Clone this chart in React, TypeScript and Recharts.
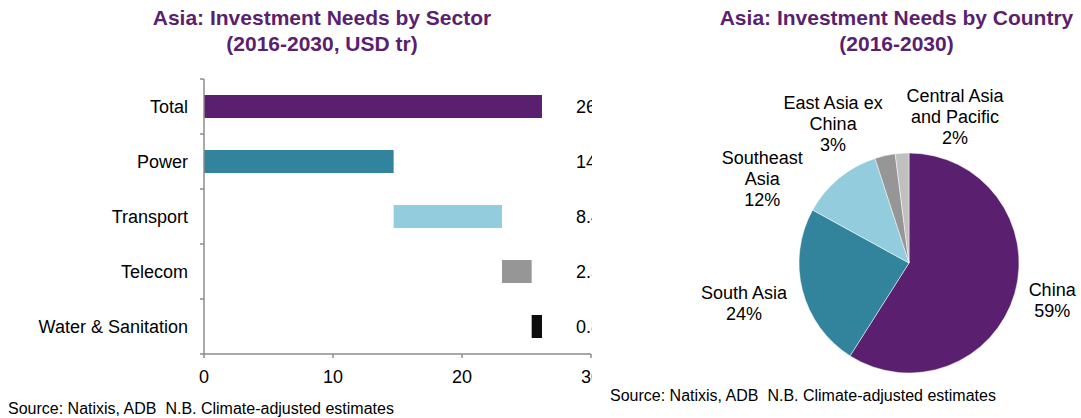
import { Bar, BarChart, Cell, LabelList, Pie, PieChart, XAxis, YAxis } from 'recharts';

const sectors = ['Total', 'Power', 'Transport', 'Telecom', 'Water & Sanitation'];
const sectorValues = [26.2, 14.7, 8.4, 2.3, 0.8];
const sectorColors = ['#5b1f70', '#31849b', '#93cddd', '#969696', '#0d0d0d'];
const xTicks = [0, 10, 20, 30];

const regions = ['China', 'South Asia', 'Southeast\nAsia', 'East Asia ex\nChina', 'Central Asia\nand Pacific'];
const regionShares = [59, 24, 12, 3, 2];
const regionColors = ['#5b1f70', '#31849b', '#93cddd', '#969696', '#c0c0c0'];

// waterfall: Total and Power start at 0, the rest stack on the running sum
const sectorData = sectors.map((name, i) => {
    let base = 0;
    for (let j = 1; j < i; j++) base += sectorValues[j];
    return { name, base: i <= 1 ? 0 : base, value: sectorValues[i] };
});

const regionData = regions.map((name, i) => ({ name, value: regionShares[i] }));

const PURPLE = '#5b1f70';
const AXIS = '#8c8c8c';
const FONT = '"Liberation Sans", Arial, sans-serif';
const PLOT_TOP = 79;
const PLOT_H = 275;
const BAND = PLOT_H / sectors.length;

// manual label placement like the excel original: [angle shift, radius]
const labelPlace = [
    [1.5, 148],
    [-0.6, 170],
    [20.6, 169],
    [15.9, 159],
    [-21.1, 153]
];

function SectorTick(props: any) {
    const { x, y, payload, index } = props;
    const axisX = x + 16;
    return (
        <g>
            <text x={x} y={y} dy="0.35em" textAnchor="end" fontSize={18} fill="#000" fontFamily={FONT}>
                {payload.value}
            </text>
            <line x1={axisX - 4} x2={axisX} y1={y - BAND / 2} y2={y - BAND / 2} stroke={AXIS} strokeWidth={1.5} />
            {index === sectors.length - 1 && (
                <line x1={axisX - 4} x2={axisX} y1={y + BAND / 2} y2={y + BAND / 2} stroke={AXIS} strokeWidth={1.5} />
            )}
        </g>
    );
}

function ValueLabel(props: any) {
    const vb = props.viewBox || {};
    const y = props.y ?? vb.y;
    const h = props.height ?? vb.height;
    return (
        <text x={576} y={y + h / 2} dy="0.35em" fontSize={18} fill="#000" fontFamily={FONT}>
            {Number(props.value).toFixed(1)}
        </text>
    );
}

const RADIAN = Math.PI / 180;
function RegionLabel(props: any) {
    const { cx, cy, midAngle, index } = props;
    const [shift, r] = labelPlace[index];
    const a = (midAngle + shift) * RADIAN;
    const lx = cx + r * Math.cos(a);
    const ly = cy - r * Math.sin(a);
    const lines = String(regions[index]).split('\n');
    lines.push(`${regionShares[index]}%`);
    const top = ly - ((lines.length - 1) * 21) / 2;
    return (
        <text x={lx} y={top} textAnchor="middle" fontSize={18} fill="#000" fontFamily={FONT}>
            {lines.map((t, i) => (
                <tspan key={i} x={lx} y={top + i * 21} dy="0.35em">
                    {t}
                </tspan>
            ))}
        </text>
    );
}

const titleStyle: React.CSSProperties = {
    position: 'absolute',
    top: 5,
    textAlign: 'center',
    fontSize: 21,
    fontWeight: 'bold',
    lineHeight: '26px',
    color: PURPLE,
    whiteSpace: 'nowrap'
};

const sourceStyle: React.CSSProperties = {
    position: 'absolute',
    fontSize: 16,
    color: '#000',
    whiteSpace: 'nowrap',
    lineHeight: '18px'
};

export default function App() {
    return (
        <div
            style={{
                position: 'absolute',
                left: 0,
                top: 0,
                width: 1081,
                height: 418,
                overflow: 'hidden',
                background: '#fff',
                fontFamily: FONT
            }}
        >
            <div style={{ ...titleStyle, left: 0, width: 644 }}>
                Asia: Investment Needs by Sector
                <br />
                (2016-2030, USD tr)
            </div>
            <div style={{ position: 'absolute', left: 0, top: 0, width: 592, height: 395, overflow: 'hidden' }}>
                <BarChart
                    width={592}
                    height={395}
                    data={sectorData}
                    layout="vertical"
                    barSize={23}
                    margin={{ top: PLOT_TOP, right: 1, bottom: 395 - PLOT_TOP - PLOT_H - 30, left: 0 }}
                >
                    <XAxis
                        type="number"
                        domain={[0, 30]}
                        ticks={xTicks}
                        interval={0}
                        height={30}
                        stroke={AXIS}
                        strokeWidth={1.5}
                        tickSize={4}
                        tickMargin={12}
                        tick={{ fill: '#000', fontSize: 18, fontFamily: FONT }}
                    />
                    <YAxis
                        type="category"
                        dataKey="name"
                        width={204}
                        stroke={AXIS}
                        strokeWidth={1.5}
                        tickLine={false}
                        tickSize={4}
                        tickMargin={12}
                        interval={0}
                        tick={<SectorTick />}
                    />
                    <Bar dataKey="base" stackId="w" fill="transparent" isAnimationActive={false} />
                    <Bar dataKey="value" stackId="w" isAnimationActive={false}>
                        {sectorData.map((_d, i) => (
                            <Cell key={`bar-${i}`} fill={sectorColors[i]} />
                        ))}
                        <LabelList dataKey="value" content={<ValueLabel />} />
                    </Bar>
                </BarChart>
            </div>
            <div style={{ ...sourceStyle, left: 8, top: 400 }}>Source: Natixis, ADB&nbsp; N.B. Climate-adjusted estimates</div>

            <div style={{ ...titleStyle, left: 600, width: 593 }}>
                Asia: Investment Needs by Country
                <br />
                (2016-2030)
            </div>
            <div style={{ position: 'absolute', left: 600, top: 0 }}>
                <PieChart width={481} height={418}>
                    <Pie
                        data={regionData}
                        dataKey="value"
                        nameKey="name"
                        cx={304}
                        cy={258}
                        outerRadius={110}
                        startAngle={90}
                        endAngle={-270}
                        stroke="#fff"
                        strokeWidth={0.5}
                        labelLine={false}
                        label={RegionLabel}
                        isAnimationActive={false}
                    >
                        {regionData.map((_d, i) => (
                            <Cell key={`slice-${i}`} fill={regionColors[i]} />
                        ))}
                    </Pie>
                </PieChart>
            </div>
            <div style={{ ...sourceStyle, left: 610, top: 387 }}>Source: Natixis, ADB&nbsp; N.B. Climate-adjusted estimates</div>
        </div>
    );
}
